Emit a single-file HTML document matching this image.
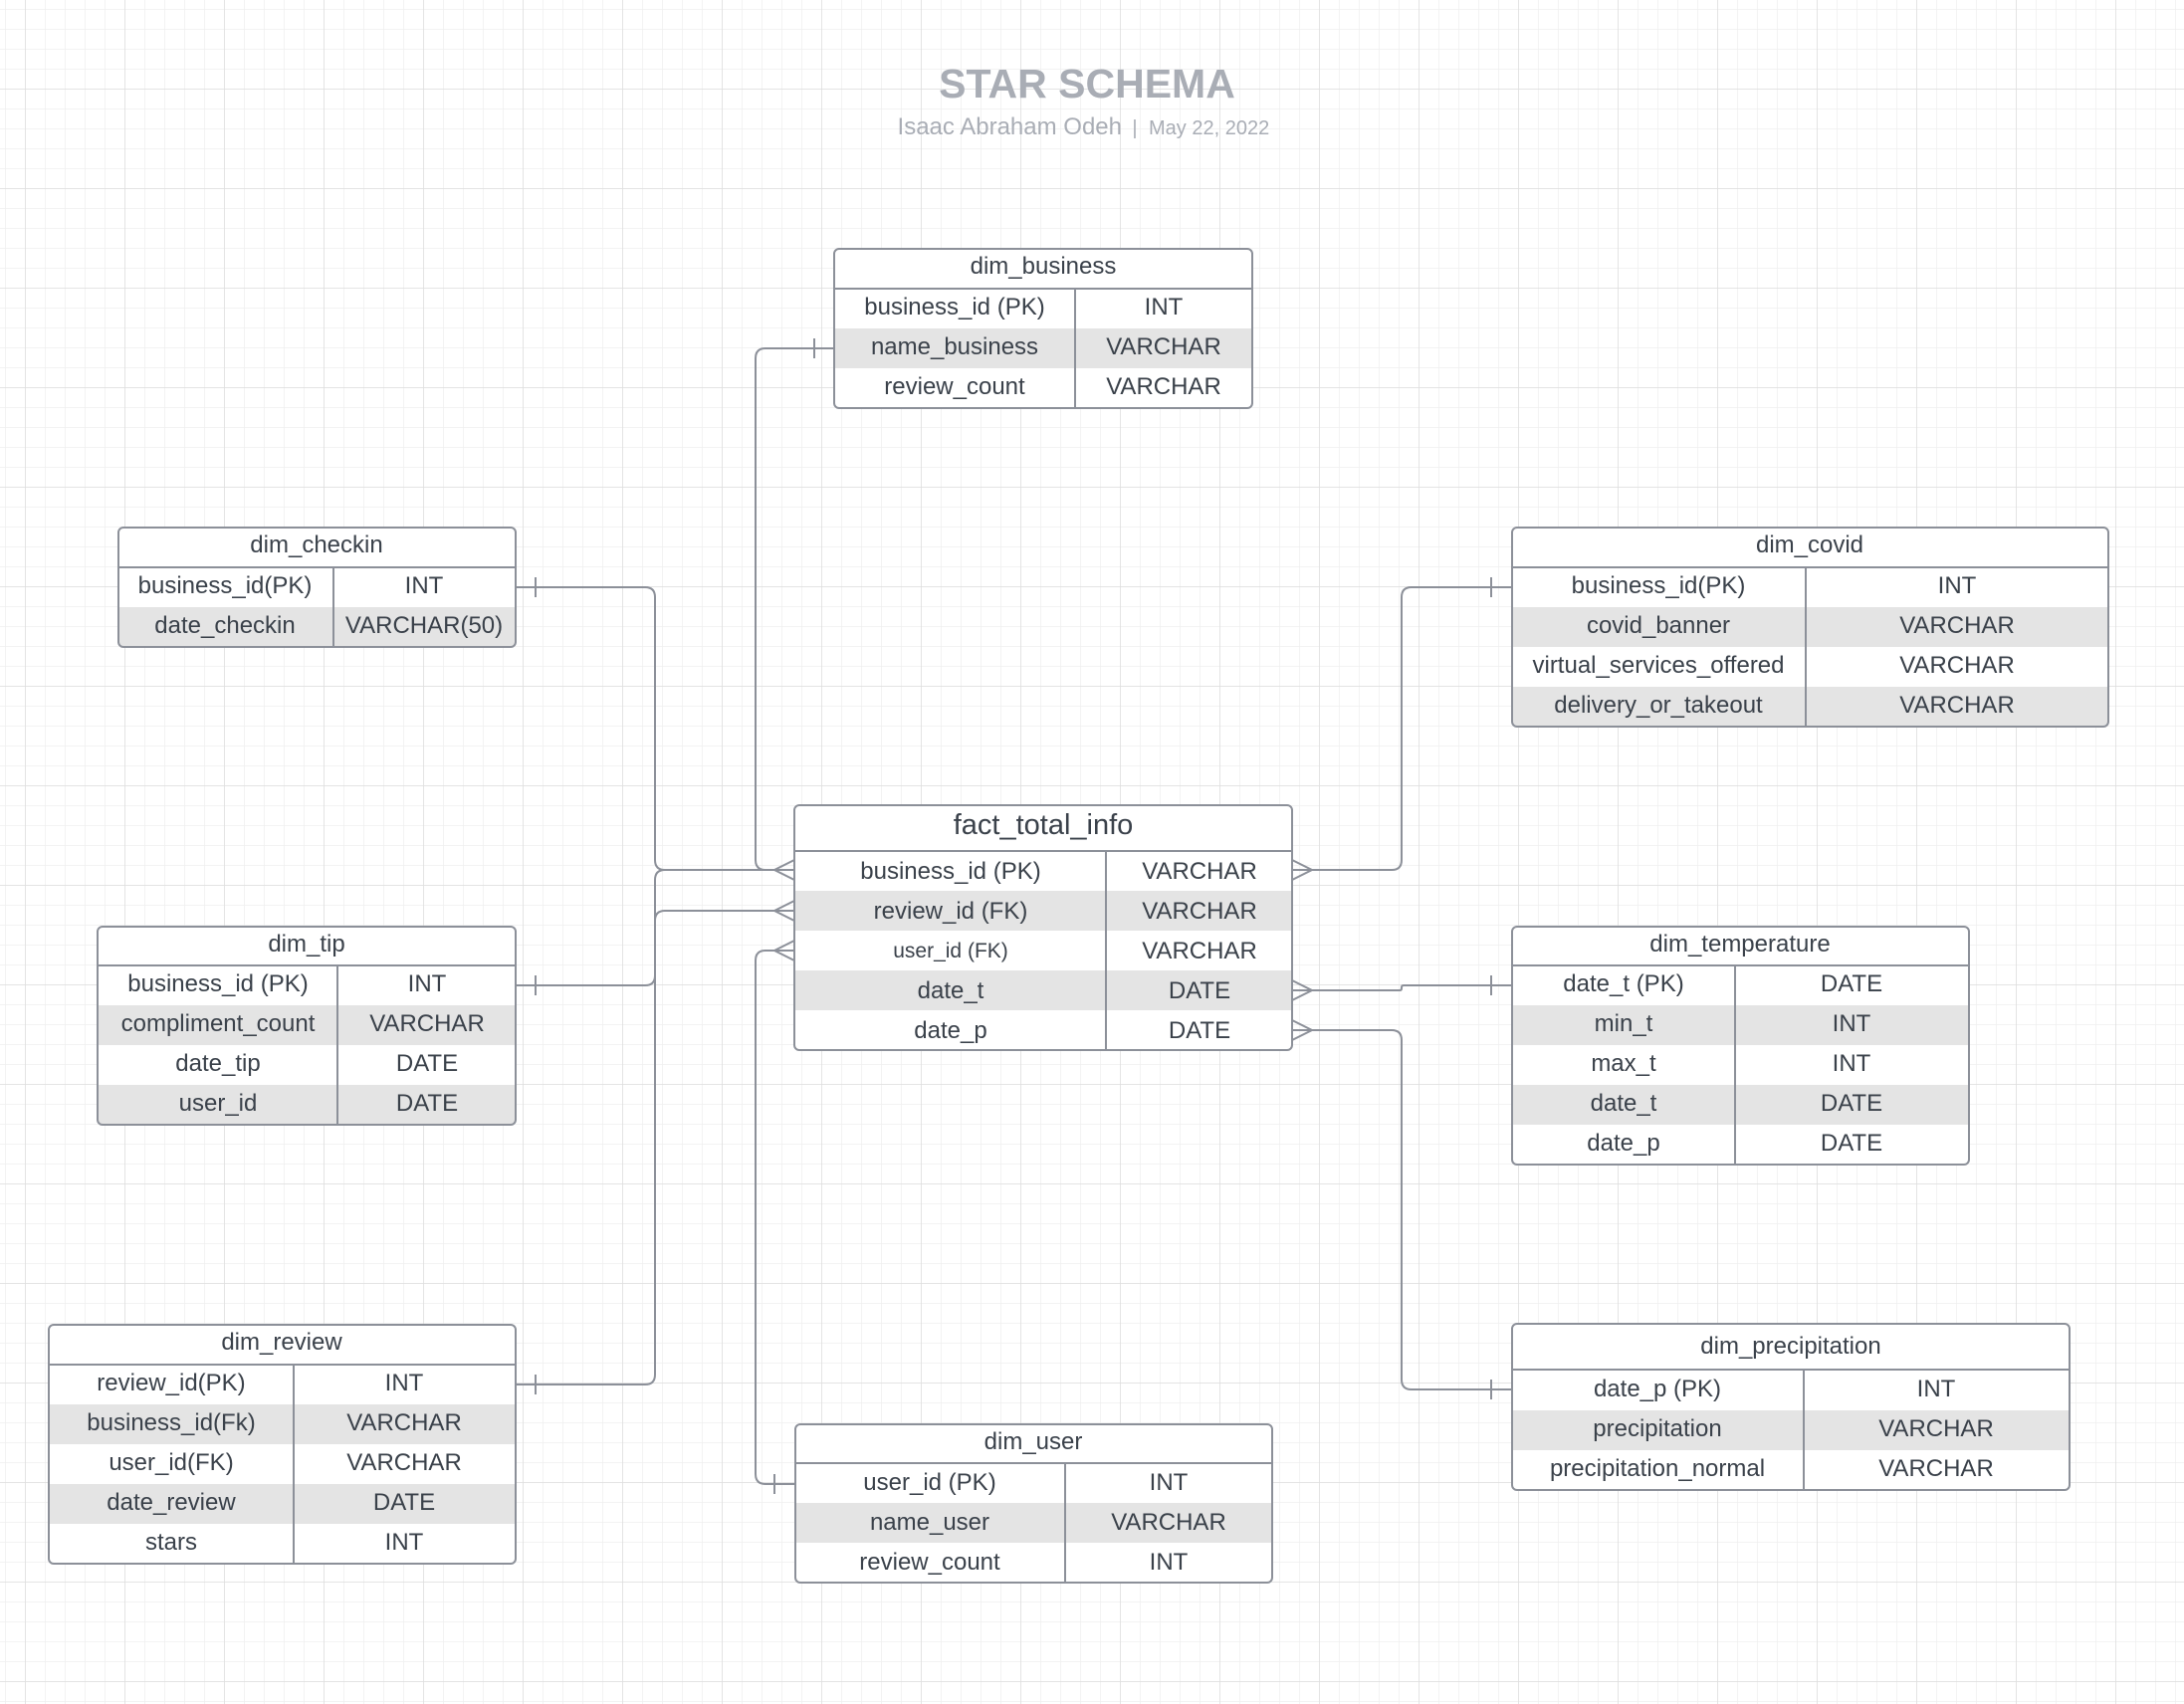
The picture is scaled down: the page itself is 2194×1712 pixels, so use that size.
<!DOCTYPE html>
<html><head><meta charset="utf-8"><style>
html,body{margin:0;padding:0;background:#fff}
svg{display:block}
text{font-family:"Liberation Sans",Arial,sans-serif;fill:#3a414a}
</style></head><body>
<svg width="2194" height="1712" viewBox="0 0 2194 1712" xmlns="http://www.w3.org/2000/svg">
<defs>
<pattern id="mi" x="5" y="9" width="20" height="20" patternUnits="userSpaceOnUse"><path d="M0 0H20M0 0V20" stroke="#efefef" stroke-width="1.5" fill="none"/></pattern>
<pattern id="ma" x="25" y="89" width="100" height="100" patternUnits="userSpaceOnUse"><path d="M0 0H100M0 0V100" stroke="#dedede" stroke-width="1.5" fill="none"/></pattern>
</defs>
<rect width="2194" height="1712" fill="url(#mi)"/>
<rect width="2194" height="1712" fill="url(#ma)"/>

<text x="1092" y="98" text-anchor="middle" font-size="41" font-weight="bold" style="fill:#a9adb5">STAR SCHEMA</text>
<text x="1127" y="135" text-anchor="end" font-size="24" style="fill:#a9adb5">Isaac Abraham Odeh</text>
<text x="1140" y="135" text-anchor="middle" font-size="20" style="fill:#a9adb5">|</text>
<text x="1154" y="135" font-size="20" style="fill:#a9adb5">May 22, 2022</text>

<g stroke="#8c9099" stroke-width="2" fill="none">
<path d="M838 350H769Q759 350 759 360V864Q759 874 769 874H798"/>
<path d="M518 590H648Q658 590 658 600V864Q658 874 668 874H798"/>
<path d="M518 990H648Q658 990 658 980V884Q658 874 668 874"/>
<path d="M518 1391H648Q658 1391 658 1381V925Q658 915 668 915H798"/>
<path d="M798 1491H769Q759 1491 759 1481V965Q759 955 769 955H798"/>
<path d="M1518 590H1418Q1408 590 1408 600V864Q1408 874 1398 874H1298"/>
<path d="M1518 990H1410Q1408 990 1408 992V993Q1408 995 1406 995H1298"/>
<path d="M1518 1396H1418Q1408 1396 1408 1386V1045Q1408 1035 1398 1035H1298"/>
<path d="M818 340V360M538 580V600M538 980V1000M538 1381V1401M778 1481V1501M1498 580V600M1498 980V1000M1498 1386V1406"/>
<path d="M798 864L778 874L798 884M798 905L778 915L798 925M798 945L778 955L798 965"/>
<path d="M1298 864L1318 874L1298 884M1298 985L1318 995L1298 1005M1298 1025L1318 1035L1298 1045"/>
</g>

<g font-size="24" text-anchor="middle">
<rect x="838" y="250" width="420" height="160" rx="5" fill="#fff"/>
<rect x="838" y="330" width="420" height="40" fill="#e4e4e4"/>
<rect x="838" y="250" width="420" height="160" rx="5" fill="none" stroke="#8c9099" stroke-width="2"/>
<path d="M838 290H1258M1080 290V410" stroke="#8c9099" stroke-width="2"/>
<text x="1048" y="275">dim_business</text>
<text x="959" y="316">business_id (PK)</text><text x="1169" y="316">INT</text>
<text x="959" y="356">name_business</text><text x="1169" y="356">VARCHAR</text>
<text x="959" y="396">review_count</text><text x="1169" y="396">VARCHAR</text>

<rect x="119" y="530" width="399" height="120" rx="5" fill="#fff"/>
<rect x="119" y="610" width="399" height="40" rx="5" fill="#e4e4e4"/>
<rect x="119" y="610" width="399" height="20" fill="#e4e4e4"/>
<rect x="119" y="530" width="399" height="120" rx="5" fill="none" stroke="#8c9099" stroke-width="2"/>
<path d="M119 570H518M335 570V650" stroke="#8c9099" stroke-width="2"/>
<text x="318" y="555">dim_checkin</text>
<text x="226" y="596">business_id(PK)</text><text x="426" y="596">INT</text>
<text x="226" y="636">date_checkin</text><text x="426" y="636">VARCHAR(50)</text>

<rect x="1519" y="530" width="599" height="200" rx="5" fill="#fff"/>
<rect x="1519" y="610" width="599" height="40" fill="#e4e4e4"/>
<rect x="1519" y="690" width="599" height="40" rx="5" fill="#e4e4e4"/>
<rect x="1519" y="690" width="599" height="20" fill="#e4e4e4"/>
<rect x="1519" y="530" width="599" height="200" rx="5" fill="none" stroke="#8c9099" stroke-width="2"/>
<path d="M1519 570H2118M1814 570V730" stroke="#8c9099" stroke-width="2"/>
<text x="1818" y="555">dim_covid</text>
<text x="1666" y="596">business_id(PK)</text><text x="1966" y="596">INT</text>
<text x="1666" y="636">covid_banner</text><text x="1966" y="636">VARCHAR</text>
<text x="1666" y="676">virtual_services_offered</text><text x="1966" y="676">VARCHAR</text>
<text x="1666" y="716">delivery_or_takeout</text><text x="1966" y="716">VARCHAR</text>

<rect x="798" y="809" width="500" height="246" rx="5" fill="#fff"/>
<rect x="798" y="895" width="500" height="40" fill="#e4e4e4"/>
<rect x="798" y="975" width="500" height="40" fill="#e4e4e4"/>
<rect x="798" y="809" width="500" height="246" rx="5" fill="none" stroke="#8c9099" stroke-width="2"/>
<path d="M798 855H1298M1111 855V1055" stroke="#8c9099" stroke-width="2"/>
<text x="1048" y="838" font-size="29">fact_total_info</text>
<text x="955" y="883">business_id (PK)</text><text x="1205" y="883">VARCHAR</text>
<text x="955" y="923">review_id (FK)</text><text x="1205" y="923">VARCHAR</text>
<text x="955" y="962" font-size="21">user_id (FK)</text><text x="1205" y="963">VARCHAR</text>
<text x="955" y="1003">date_t</text><text x="1205" y="1003">DATE</text>
<text x="955" y="1043">date_p</text><text x="1205" y="1043">DATE</text>

<rect x="98" y="931" width="420" height="199" rx="5" fill="#fff"/>
<rect x="98" y="1010" width="420" height="40" fill="#e4e4e4"/>
<rect x="98" y="1090" width="420" height="40" rx="5" fill="#e4e4e4"/>
<rect x="98" y="1090" width="420" height="20" fill="#e4e4e4"/>
<rect x="98" y="931" width="420" height="199" rx="5" fill="none" stroke="#8c9099" stroke-width="2"/>
<path d="M98 970H518M339 970V1130" stroke="#8c9099" stroke-width="2"/>
<text x="308" y="956">dim_tip</text>
<text x="219" y="996">business_id (PK)</text><text x="429" y="996">INT</text>
<text x="219" y="1036">compliment_count</text><text x="429" y="1036">VARCHAR</text>
<text x="219" y="1076">date_tip</text><text x="429" y="1076">DATE</text>
<text x="219" y="1116">user_id</text><text x="429" y="1116">DATE</text>

<rect x="1519" y="931" width="459" height="239" rx="5" fill="#fff"/>
<rect x="1519" y="1010" width="459" height="40" fill="#e4e4e4"/>
<rect x="1519" y="1090" width="459" height="40" fill="#e4e4e4"/>
<rect x="1519" y="931" width="459" height="239" rx="5" fill="none" stroke="#8c9099" stroke-width="2"/>
<path d="M1519 970H1978M1743 970V1170" stroke="#8c9099" stroke-width="2"/>
<text x="1748" y="956">dim_temperature</text>
<text x="1631" y="996">date_t (PK)</text><text x="1860" y="996">DATE</text>
<text x="1631" y="1036">min_t</text><text x="1860" y="1036">INT</text>
<text x="1631" y="1076">max_t</text><text x="1860" y="1076">INT</text>
<text x="1631" y="1116">date_t</text><text x="1860" y="1116">DATE</text>
<text x="1631" y="1156">date_p</text><text x="1860" y="1156">DATE</text>

<rect x="49" y="1331" width="469" height="240" rx="5" fill="#fff"/>
<rect x="49" y="1411" width="469" height="40" fill="#e4e4e4"/>
<rect x="49" y="1491" width="469" height="40" fill="#e4e4e4"/>
<rect x="49" y="1331" width="469" height="240" rx="5" fill="none" stroke="#8c9099" stroke-width="2"/>
<path d="M49 1371H518M295 1371V1571" stroke="#8c9099" stroke-width="2"/>
<text x="283" y="1356">dim_review</text>
<text x="172" y="1397">review_id(PK)</text><text x="406" y="1397">INT</text>
<text x="172" y="1437">business_id(Fk)</text><text x="406" y="1437">VARCHAR</text>
<text x="172" y="1477">user_id(FK)</text><text x="406" y="1477">VARCHAR</text>
<text x="172" y="1517">date_review</text><text x="406" y="1517">DATE</text>
<text x="172" y="1557">stars</text><text x="406" y="1557">INT</text>

<rect x="1519" y="1330" width="560" height="167" rx="5" fill="#fff"/>
<rect x="1519" y="1417" width="560" height="40" fill="#e4e4e4"/>
<rect x="1519" y="1330" width="560" height="167" rx="5" fill="none" stroke="#8c9099" stroke-width="2"/>
<path d="M1519 1376H2079M1812 1376V1497" stroke="#8c9099" stroke-width="2"/>
<text x="1799" y="1360">dim_precipitation</text>
<text x="1665" y="1403">date_p (PK)</text><text x="1945" y="1403">INT</text>
<text x="1665" y="1443">precipitation</text><text x="1945" y="1443">VARCHAR</text>
<text x="1665" y="1483">precipitation_normal</text><text x="1945" y="1483">VARCHAR</text>

<rect x="799" y="1431" width="479" height="159" rx="5" fill="#fff"/>
<rect x="799" y="1510" width="479" height="40" fill="#e4e4e4"/>
<rect x="799" y="1431" width="479" height="159" rx="5" fill="none" stroke="#8c9099" stroke-width="2"/>
<path d="M799 1470H1278M1070 1470V1590" stroke="#8c9099" stroke-width="2"/>
<text x="1038" y="1456">dim_user</text>
<text x="934" y="1497">user_id (PK)</text><text x="1174" y="1497">INT</text>
<text x="934" y="1537">name_user</text><text x="1174" y="1537">VARCHAR</text>
<text x="934" y="1577">review_count</text><text x="1174" y="1577">INT</text>
</g>
</svg>
</body></html>
